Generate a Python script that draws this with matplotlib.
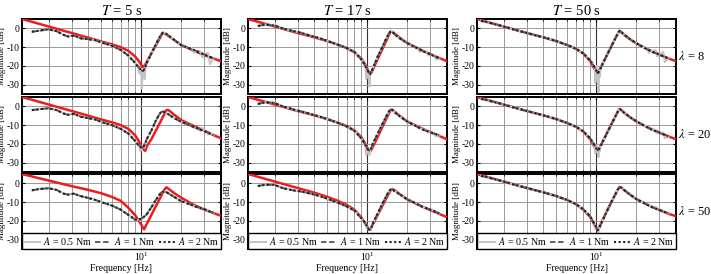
import matplotlib
matplotlib.use("Agg")
import matplotlib.pyplot as plt
import numpy as np

# frequency axes of the read-off data [Hz]
freq_model = [1.26, 2, 3, 4, 5, 6, 7, 8, 9, 9.5, 10, 10.25, 10.5, 10.75, 11, 12, 13, 14,
              14.5, 15, 15.5, 16, 18, 20, 25, 30, 35, 40]
freq_meas = [1.35, 1.5, 1.7, 2, 2.3, 2.6, 2.8, 3.1, 3.5, 4, 4.5, 5, 6, 7, 8, 9, 9.5, 10,
             10.25, 10.5, 10.75, 11, 12, 13, 14, 14.5, 15, 15.5, 16, 18, 20, 23, 26, 30, 35]
freq_spike = [9.7, 9.85, 10.1, 10.4, 10.6, 24, 25, 28, 29, 32, 33]

periods = [5, 17, 50]
lambdas = [8, 20, 50]
nan = float("nan")

# model (red) magnitude [dB]
model_T5_l8 = [5, 1, -2.5, -5, -7, -8.5, -10, -12, -15, -17, -19.5, -20.6, -20.3, -19.2, -17.9,
               -13, -8.6, -4.5, -2.3, -2.7, -3.3, -4, -6.5, -8.8, -12, -14.3, -16, -17.5]
model_T5_l20 = [5, 1, -2.5, -5, -7, -8.5, -10, -12, -15.5, -18, -21, -22.3, -23.4, -23.7, -21.3,
                -17.2, -12.4, -8.1, -5.9, -3.9, -2, -1.9, -4.8, -7.3, -10.5, -13, -15.3, -17]
model_T5_l50 = [5, 1.5, -1.5, -3.5, -5.3, -7.2, -9.3, -13, -17, -19.5, -22, -23.3, -24.5, -23.1,
                -21.7, -16.5, -11.7, -7.3, -5.2, -3.2, -2.1, -2.8, -5.5, -7.6, -11.5, -14, -15.8, -17.3]
model_T17_l8 = [5, 1, -2.5, -4.8, -6.8, -8.7, -10.5, -12.8, -16, -18.5, -21.5, -23, -24.2, -23.6,
                -22.1, -16.4, -11.1, -6.3, -3.9, -1.8, -1.8, -2.6, -5.5, -7.8, -11.2, -13.8, -15.8, -17.5]
model_T17_l20 = [5, 1, -2.5, -4.8, -6.8, -8.7, -10.5, -12.8, -16.3, -19, -22, -23.3, -24, -23,
                 -21.7, -16.2, -11, -6.3, -4, -2, -1.8, -2.7, -5.6, -8, -11.3, -13.8, -15.8, -17.5]
model_T17_l50 = [5, 1, -2.5, -5, -7.2, -9.3, -11.5, -14, -18, -20.5, -23, -24.5, -24.8, -23.5,
                 -22, -16.8, -12, -7.7, -5.6, -3.7, -3, -3.6, -6.2, -8.5, -11.8, -14.3, -16.3, -18]
model_T50_l8 = [5, 1, -2.5, -4.8, -6.8, -8.8, -10.8, -13.5, -17.5, -20.5, -23, -24.2, -22.7, -21.3,
                -19.8, -14.5, -9.6, -5.1, -3, -1.3, -2, -3, -5.8, -8, -11.5, -14, -16, -17.5]
model_T50_l20 = [5, 1, -2.5, -4.8, -6.8, -8.8, -10.8, -13.5, -17.5, -20.5, -23, -24.2, -22.7, -21.3,
                 -19.8, -14.5, -9.6, -5.1, -3, -1.4, -2, -3, -5.8, -8, -11.5, -14, -16, -17.5]
model_T50_l50 = [5, 1, -2.5, -4.8, -6.8, -8.8, -11, -14, -18, -21, -24, -25, -23.5, -22, -20.5,
                 -15, -10, -5.6, -3.5, -1.9, -2.3, -3.2, -6, -8.3, -11.8, -14.2, -16.2, -17.5]

# measured (A = 1 Nm / 2 Nm) magnitude [dB]
meas_T5_l8 = [nan, -1.8, -1.2, -0.5, -1.5, -3.5, -4.3, -3.8, -5.3, -5.8, -6.3, -7.5, -9.2, -11.5,
              -14.5, -18.5, -20.5, -22.3, -22.8, -22, -20.5, -18.5, -13, -8, -3.8, -2.5, -2.6,
              -3, -3.7, -6.5, -9, -10.5, -12, -14, -16]
meas_T5_l20 = [nan, -2, -1.5, -1, -2, -3.8, -4.5, -4, -5.5, -6.3, -7, -8.3, -10, -12, -14.5,
               -18.5, -20.5, -22, -22.3, -21, -19.5, -17.5, -12.5, -7, -3.3, -2.7, -3, -3.5,
               -4.2, -6.5, -8.2, -10, -11.5, -13.2, -15.3]
meas_T5_l50 = [nan, -3.7, -3, -2.6, -3.5, -5.5, -6, -5.5, -6.8, -7.8, -8.8, -10, -11.8, -14,
               -16.8, -19.3, -19.6, -18.8, -18.3, -17.8, -17.3, -16.5, -12.5, -8.5, -5.2, -4.5,
               -4.4, -4.7, -5.3, -7.5, -9.5, -11, -12.5, -13.8, -15.7]
meas_T17_l8 = [nan, 1.3, 2, 1.5, 0, -1, -1.5, -2.2, -3.3, -4.5, -5.5, -6.7, -8.7, -10.5, -12.5,
               -16.5, -19, -22, -23.5, -24.5, -23, -21.5, -15, -10, -5, -3, -1.5, -1.8, -3,
               -5.8, -7.8, -10, -12, -13.8, -16]
meas_T17_l20 = [nan, 1.3, 2.2, 1.8, 0, -1, -1.8, -2.5, -3.5, -4.7, -5.7, -6.8, -8.8, -10.7, -13,
                -17, -19.5, -22.5, -23.5, -23.5, -22, -20, -14.5, -9.5, -5, -3, -1.7, -2, -3,
                -5.8, -8, -10.3, -12.3, -13.8, -15.5]
meas_T17_l50 = [nan, -1.4, -0.7, -0.8, -2.5, -3.3, -3.8, -4.2, -5, -6, -7, -8.2, -10.3, -12.3,
                -14.5, -18.5, -20.5, -23, -24.5, -24.8, -23.5, -21.5, -16, -11, -6.5, -4.5, -3.3,
                -3.3, -4, -6.3, -8.5, -10.5, -12.5, -14, -16]
meas_T50_l8 = [4, 3.3, 2.3, 1, -0.3, -1.3, -1.9, -2.7, -3.7, -4.8, -5.8, -6.8, -8.8, -10.8, -13.3,
               -17, -19.5, -22.5, -24, -23, -21.5, -20, -14.5, -9.6, -5.1, -3, -1.3, -2, -3,
               -5.8, -7.8, -10.3, -12.3, -14, -16]
meas_T50_l20 = [4, 3.3, 2.3, 1, -0.3, -1.3, -1.9, -2.7, -3.7, -4.8, -5.8, -6.8, -8.8, -10.8, -13.3,
                -17, -19.5, -22.3, -23.5, -22.8, -21.5, -20, -14.5, -9.6, -5.1, -3, -1.4, -2, -3,
                -5.8, -7.8, -10.3, -12.3, -14, -16]
meas_T50_l50 = [4, 3.3, 2.3, 1, -0.3, -1.3, -1.9, -2.7, -3.7, -4.8, -5.8, -6.8, -8.8, -11, -13.8,
                -17.5, -20.5, -23.5, -25, -24, -22.5, -20.8, -15, -10, -5.6, -3.5, -1.9, -2.3,
                -3.2, -6, -8.3, -10.5, -12.5, -14.2, -16]

# extra noisy readings of the A = 0.5 Nm trace [dB]
spike_T5_l8 = [-24, -21, -32, -25, -27, -10.5, -13, -12.5, -15.5, -13, -19]
spike_T5_l20 = [-21, -24, -23, -20, -22, -10.5, -11.5, -13, -11.5, -15, -14]
spike_T5_l50 = [-19, -20, -18, -18.5, -17.5, -11.5, -12, -13.5, -13, -14.5, -15]
spike_T17_l8 = [-20, -27, -23, -31, -24, -11, -12.5, -12, -14.5, -14, -16.5]
spike_T17_l20 = [-21, -26, -22.5, -26, -23, -11, -11.5, -12.5, -14, -14.5, -16]
spike_T17_l50 = [-21, -22, -24.5, -25, -25, -11, -12, -13, -13.5, -14.5, -15.5]
spike_T50_l8 = [-21, -29, -20, -34, -26, -10.5, -13, -11.5, -15, -12.5, -18]
spike_T50_l20 = [-22, -25, -21, -27, -24, -10.5, -12, -12.5, -14.5, -14, -17]
spike_T50_l50 = [-22, -24, -23.5, -26, -24, -11, -11.5, -12.5, -13.5, -14.5, -15.5]

models = [[model_T5_l8, model_T17_l8, model_T50_l8],
          [model_T5_l20, model_T17_l20, model_T50_l20],
          [model_T5_l50, model_T17_l50, model_T50_l50]]
meass = [[meas_T5_l8, meas_T17_l8, meas_T50_l8],
         [meas_T5_l20, meas_T17_l20, meas_T50_l20],
         [meas_T5_l50, meas_T17_l50, meas_T50_l50]]
spikes = [[spike_T5_l8, spike_T17_l8, spike_T50_l8],
          [spike_T5_l20, spike_T17_l20, spike_T50_l20],
          [spike_T5_l50, spike_T17_l50, spike_T50_l50]]

plt.rcParams['font.family'] = ['Liberation Serif', 'DejaVu Serif']
plt.rcParams['mathtext.fontset'] = 'stix'
plt.rcParams['axes.unicode_minus'] = False

W, H = 711, 274
fig = plt.figure(figsize=(W / 100, H / 100), dpi=100)
col_left = [22, 248, 477]
row_top = [19, 97, 174]
aw, ah = 199, 75

for r in range(3):
    for c in range(3):
        ax = fig.add_axes([col_left[c] / W, 1 - (row_top[r] + ah) / H, aw / W, ah / H])
        ax.set_xscale('log')
        # grey trace: regular readings plus the noisy ones, ordered by frequency
        fg = np.array(freq_meas + freq_spike)
        vg = np.array(meass[r][c] + spikes[r][c])
        order = np.argsort(fg)
        ax.plot(freq_model, models[r][c], color='#ee1c1c', lw=1.8, zorder=3)
        h1, = ax.plot(fg[order], vg[order], color='#c4c4c4', lw=1.5, zorder=4)
        h2, = ax.plot(freq_meas, meass[r][c], color='#555555', lw=1.3, ls=(0, (3, 1.5)), zorder=5)
        h3, = ax.plot(freq_meas, meass[r][c], color='#222222', lw=1.5, ls=(0, (1, 1.2)), zorder=6)
        ax.set_xlim(1.26, 40)
        ax.set_ylim(-35, 5)
        ax.set_yticks([-30, -20, -10, 0])
        ax.grid(True, which='major', axis='x', color='#333333', lw=0.8)
        ax.grid(True, which='minor', axis='x', color='#999999', lw=0.7)
        ax.grid(True, which='major', axis='y', color='#999999', lw=0.7)
        ax.tick_params(which='both', direction='in', top=True, right=True, labelsize=7, pad=2)
        ax.tick_params(which='major', length=2.5)
        ax.tick_params(which='minor', length=1.5)
        ax.xaxis.set_minor_formatter(matplotlib.ticker.NullFormatter())
        for s in ax.spines.values():
            s.set_linewidth(1.4)
        ax.set_ylabel('Magnitude [dB]', fontsize=6.5, labelpad=0.5)
        if r == 0:
            ax.set_title('$T$ = %d s' % periods[c], fontsize=10.5, pad=3)
        if r < 2:
            ax.tick_params(labelbottom=False)
        else:
            ax.tick_params(axis='x', pad=1.5)
            ax.set_xlabel('Frequency [Hz]', fontsize=7, labelpad=0.5)
            leg = ax.legend([h1, h2, h3], ['$A$ = 0.5 Nm', '$A$ = 1 Nm', '$A$ = 2 Nm'],
                            ncol=3, loc='lower left', bbox_to_anchor=(0, 0, 1, 0.17),
                            mode='expand', fontsize=7.2, fancybox=False, edgecolor='black',
                            framealpha=1, borderaxespad=0, handlelength=1.6,
                            handletextpad=0.3, columnspacing=0.3, borderpad=0.2)
            leg.get_frame().set_linewidth(1.0)
            leg.set_zorder(10)
    fig.text(678 / W, 1 - (row_top[r] + ah / 2) / H, r'$\lambda$ = %d' % lambdas[r],
             fontsize=9, va='center', ha='left')

fig.savefig('out.png', dpi=100)
